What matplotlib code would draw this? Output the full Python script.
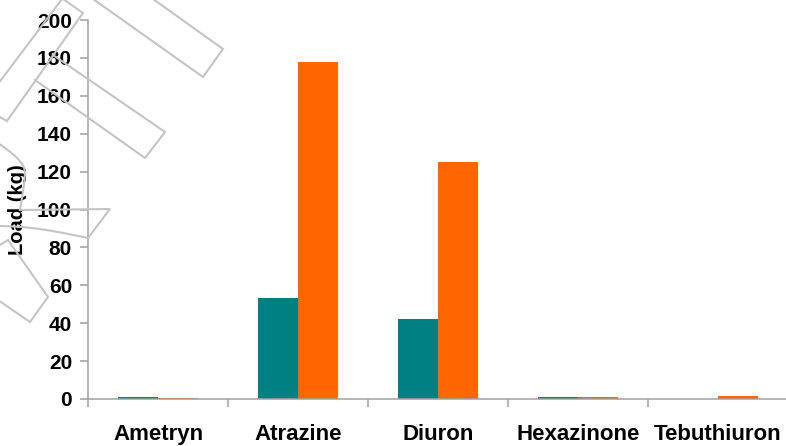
import matplotlib
matplotlib.use("Agg")
import matplotlib.pyplot as plt
from matplotlib.lines import Line2D
import numpy as np

# Herbicide loads per compound for the two series
categories = ["Ametryn", "Atrazine", "Diuron", "Hexazinone", "Tebuthiuron"]
series_a = [1.0, 53.3, 42.2, 1.0, 0.2]
series_b = [0.3, 177.8, 125.0, 0.8, 1.5]
y_ticks = [0, 20, 40, 60, 80, 100, 120, 140, 160, 180, 200]

W, H = 786, 446
plt.rcParams["font.family"] = ["Liberation Sans", "DejaVu Sans"]
fig = plt.figure(figsize=(W / 100, H / 100), dpi=100)
ax = fig.add_axes([88 / W, 47 / H, 700 / W, 379 / H])

x = np.arange(len(categories))
bw = 40 / 140
ax.bar(x - bw / 2, series_a, width=bw, color="#008080", linewidth=0)
ax.bar(x + bw / 2, series_b, width=bw, color="#FF6600", linewidth=0)

ax.set_xlim(-0.5, len(categories) - 0.5)
ax.set_ylim(0, 200)
ax.set_yticks(y_ticks)
ax.set_yticklabels([str(v) for v in y_ticks], fontsize=15, fontweight="bold")

ax.set_xticks(x)
ax.set_xticklabels(categories, fontsize=16, fontweight="bold")
ax.set_xticks(np.arange(-0.5, len(categories) + 0.5, 1), minor=True)
ax.tick_params(axis="x", which="major", length=0, pad=18)
ax.tick_params(axis="x", which="minor", length=5.5, width=1.1, color="#a0a0a0", direction="out")
ax.tick_params(axis="y", which="major", length=5.5, width=1.1, color="#a0a0a0", pad=6)

for side in ("top", "right"):
    ax.spines[side].set_visible(False)
for side in ("left", "bottom"):
    ax.spines[side].set_color("#a0a0a0")
    ax.spines[side].set_linewidth(1.1)

fig.text(18 / W, 1 - 210 / H, "Load (kg)", rotation=90, fontsize=14.5, fontweight="bold",
         ha="center", va="center")

# Light grey outline shapes across the upper left
def outline(pts):
    px = np.array(pts, dtype=float)
    fig.add_artist(Line2D(px[:, 0] / W, 1 - px[:, 1] / H, transform=fig.transFigure,
                          color="#c4c4c4", linewidth=1.5, solid_joinstyle="miter",
                          zorder=10))

outline([(-2, 84), (62, -1)])
outline([(63, -1), (83, 13), (7, 121), (-2, 116)])
outline([(153, -1), (223, 49), (203, 77), (93, -1)])
outline([(53, 55), (165, 132), (145, 158), (35, 80)])
t = np.linspace(0, 1, 20)
outline(list(zip(-2 + 27 * np.sin(t * np.pi / 2), 143 + 30 * t)) + [(24, 185), (20, 210)])
outline([(20, 210), (110, 209), (88, 238)] +
        list(zip(88 - 90 * t, 238 - 12 * np.sin(t * np.pi / 2))))
outline(list(zip(-2 + 10 * t, 246 - 6 * t)) + [(48, 297), (30, 322), (-2, 300)])

fig.savefig("out.png", dpi=100)
